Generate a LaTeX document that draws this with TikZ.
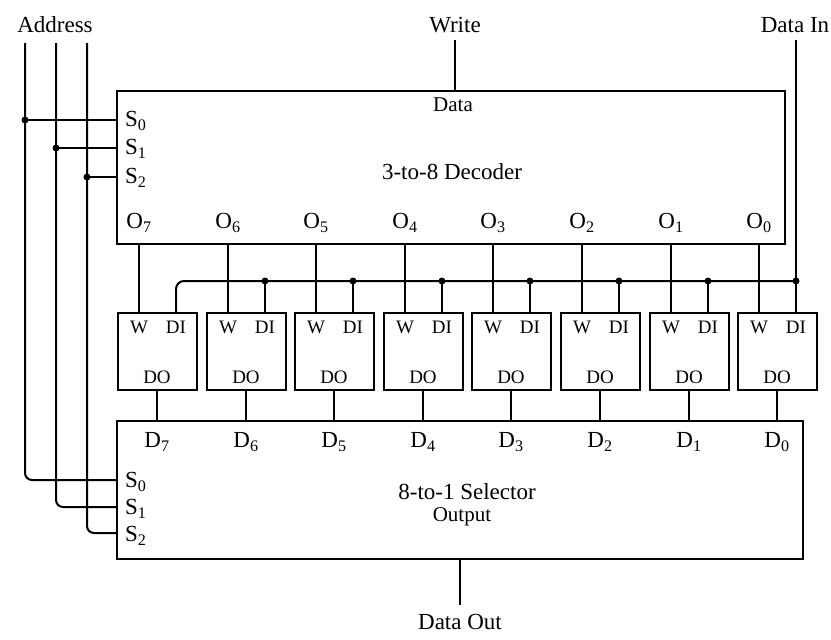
\documentclass[tikz,border=0pt]{standalone}
\usepackage{fontspec}
\setmainfont{Liberation Serif}
\usetikzlibrary{calc}
\begin{document}
\begin{tikzpicture}[x=1pt,y=-1pt, line width=2pt,
  big/.style={font=\fontsize{23}{26}\selectfont, inner sep=0pt},
  mid/.style={font=\fontsize{21}{24}\selectfont, inner sep=0pt},
  small/.style={font=\fontsize{19}{21}\selectfont, inner sep=0pt},
  box/.style={draw, line width=2pt, inner sep=0pt, anchor=north west},
  dot/.style={circle, fill, inner sep=0pt, minimum size=7pt}]
\useasboundingbox (0,0) rectangle (831,640);

% main blocks
\node[box, minimum width=668pt, minimum height=153pt] (dec) at (116,90) {};
\node[box, minimum width=686pt, minimum height=138pt] (sel) at (116,420) {};

% outside labels
\node[big] (laddr) at (55,25) {Address};
\node[big] (lwrite) at (455,25) {Write};
\node[big] (ldin) at (795,25) {Data In};
\node[big] (ldout) at (460,622) {Data Out};

% decoder texts
\node[mid] (ldata) at (453,105) {Data};
\node[big] (ldec) at (452,172) {3-to-8 Decoder};
\node[big, anchor=west] (ds0) at (124,121) {S\textsubscript{0}};
\node[big, anchor=west] (ds1) at (124,149) {S\textsubscript{1}};
\node[big, anchor=west] (ds2) at (124,178) {S\textsubscript{2}};

% selector texts
\node[big] (lsel) at (467,492) {8-to-1 Selector};
\node[mid] (lout) at (462,517) {Output};
\node[big, anchor=west] (ss0) at (124,482) {S\textsubscript{0}};
\node[big, anchor=west] (ss1) at (124,509) {S\textsubscript{1}};
\node[big, anchor=west] (ss2) at (124,536) {S\textsubscript{2}};

% address wires
\coordinate (a0) at (25,43);
\coordinate (a1) at (56,43);
\coordinate (a2) at (87,43);
\coordinate (ys0) at (0,480);
\coordinate (ys1) at (0,507);
\coordinate (ys2) at (0,533);
\draw[rounded corners=7pt] (a0) |- (sel.west |- ys0);
\draw[rounded corners=7pt] (a1) |- (sel.west |- ys1);
\draw[rounded corners=7pt] (a2) |- (sel.west |- ys2);
\node[dot] (j0) at (25,120) {};
\node[dot] (j1) at (56,148) {};
\node[dot] (j2) at (87,177) {};
\draw (j0.center) -- (dec.west |- j0.center);
\draw (j1.center) -- (dec.west |- j1.center);
\draw (j2.center) -- (dec.west |- j2.center);

% write and data out
\coordinate (wtop) at (455,40);
\draw (wtop) -- (wtop |- dec.north);
\coordinate (dobot) at (460,605);
\draw (dobot |- sel.south) -- (dobot);

% memory cells
\coordinate (bus) at (0,281);
\foreach \i/\L in {7/117, 6/206, 5/294, 4/383, 3/471, 2/560, 1/649, 0/737} {
  \node[box, minimum width=79pt, minimum height=77pt] (c\i) at (\L,312) {};
  \coordinate (w\i) at (\L+22,312);
  \coordinate (di\i) at (\L+59,312);
  \coordinate (do\i) at (\L+40,389);
  \node[small] (tw\i) at (\L+22,327) {W};
  \node[small] (tdi\i) at (\L+59,327) {DI};
  \node[small] (tdo\i) at (\L+40,377) {DO};
  \node[big] (to\i) at (\L+22,223) {O\textsubscript{\i}};
  \node[big] (td\i) at (\L+40,442) {D\textsubscript{\i}};
  \draw (w\i |- dec.south) -- (w\i);
  \draw (do\i) -- (do\i |- sel.north);
}
% data-in bus
\draw[rounded corners=8pt] (di7) |- (di0 |- bus);
\coordinate (dintop) at (796,40);
\draw (dintop) -- (di0);
\foreach \i in {0,...,6} {
  \node[dot] (b\i) at (di\i |- bus) {};
  \draw (b\i.center) -- (di\i);
}
\end{tikzpicture}
\end{document}
